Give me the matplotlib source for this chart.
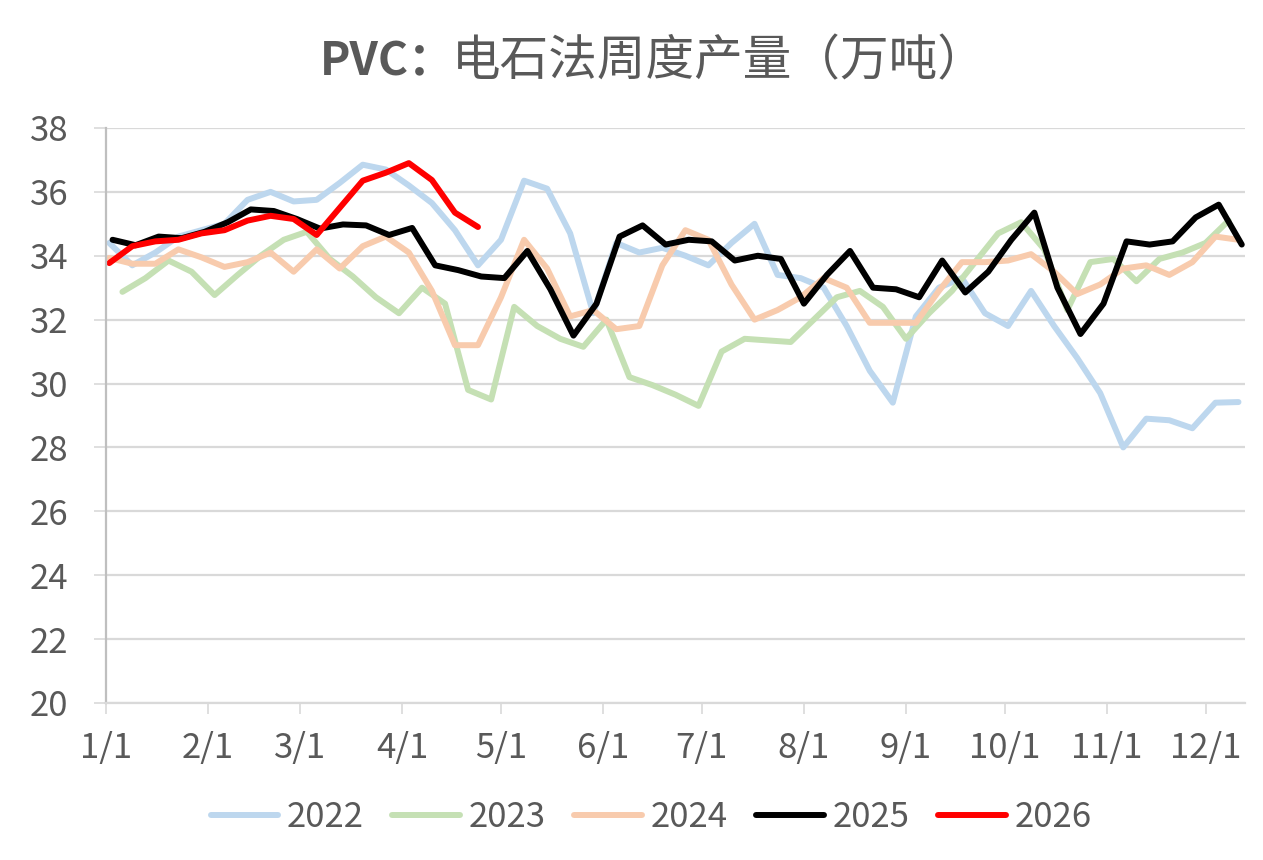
import numpy as np
import matplotlib
matplotlib.use('Agg')
import matplotlib.pyplot as plt

plt.rcParams['font.family'] = ['Noto Sans CJK SC', 'DejaVu Sans']

# days since Jan 1 for the month ticks
month_days = [0, 31, 59, 90, 120, 151, 181, 212, 243, 273, 304, 334]
month_labels = ['1/1', '2/1', '3/1', '4/1', '5/1', '6/1', '7/1', '8/1', '9/1', '10/1', '11/1', '12/1']

years = ['2022', '2023', '2024', '2025', '2026']
colors = ['#BDD7EE', '#C5E0B4', '#F8CBAD', '#000000', '#FF0000']
start_day = [1, 5, 1, 2, 1]   # first weekly observation (day of year, 0 = Jan 1)

v2022 = [34.4, 33.7, 34.1, 34.6, 34.8, 35.0, 35.75, 36.0, 35.7, 35.75,
         36.28, 36.85, 36.7, 36.2, 35.65, 34.8, 33.7, 34.5, 36.35, 36.1,
         34.7, 32.2, 34.4, 34.1, 34.25, 34.0, 33.7, 34.4, 35.0, 33.4,
         33.3, 33.0, 31.8, 30.4, 29.4, 32.1, 33.0, 33.3, 32.2, 31.8,
         32.9, 31.8, 30.8, 29.7, 28.0, 28.9, 28.85, 28.6, 29.4, 29.42]
v2023 = [32.87, 33.3, 33.85, 33.5, 32.77, 33.4, 34.0, 34.5, 34.75, 33.9,
         33.35, 32.7, 32.2, 33.0, 32.5, 29.8, 29.5, 32.4, 31.8, 31.4,
         31.15, 32.0, 30.2, 29.95, 29.65, 29.3, 31.0, 31.4, 31.35, 31.3,
         32.0, 32.7, 32.9, 32.4, 31.4, 32.2, 32.9, 33.8, 34.7, 35.05,
         34.2, 32.3, 33.8, 33.9, 33.2, 33.9, 34.1, 34.4, 35.1]
v2024 = [33.93, 33.75, 33.75, 34.2, 33.95, 33.65, 33.8, 34.1, 33.5, 34.2,
         33.6, 34.3, 34.6, 34.1, 32.9, 31.2, 31.2, 32.7, 34.5, 33.6,
         32.1, 32.3, 31.7, 31.8, 33.7, 34.8, 34.5, 33.1, 32.0, 32.3,
         32.7, 33.3, 33.0, 31.9, 31.9, 31.9, 32.9, 33.8, 33.8, 33.85,
         34.05, 33.5, 32.8, 33.1, 33.6, 33.7, 33.4, 33.8, 34.6, 34.5]
v2025 = [34.5, 34.33, 34.6, 34.55, 34.75, 35.05, 35.45, 35.4, 35.15, 34.85,
         34.98, 34.95, 34.65, 34.87, 33.7, 33.55, 33.35, 33.3, 34.15, 32.95,
         31.5, 32.5, 34.6, 34.95, 34.35, 34.5, 34.45, 33.85, 34.0, 33.9,
         32.5, 33.4, 34.15, 33.0, 32.95, 32.7, 33.85, 32.85, 33.5, 34.5,
         35.35, 33.0, 31.55, 32.5, 34.45, 34.35, 34.45, 35.2, 35.6, 34.35]
v2026 = [33.77, 34.3, 34.45, 34.5, 34.7, 34.8, 35.1, 35.25, 35.15, 34.65,
         35.5, 36.35, 36.6, 36.9, 36.37, 35.35, 34.9]

series = [v2022, v2023, v2024, v2025, v2026]

fig = plt.figure(figsize=(12.63, 8.6), dpi=100)
ax = fig.add_axes([0.0839, 0.1826, 0.9019, 0.6686])

for name, vals, c, s in zip(years, series, colors, start_day):
    days = s + 7 * np.arange(len(vals))
    ax.plot(days, vals, color=c, lw=4.3, label=name,
            solid_joinstyle='round', solid_capstyle='round')

ax.set_xlim(0, 346)
ax.set_ylim(20, 38)
ax.set_yticks(np.arange(20, 39, 2))
ax.set_xticks(month_days)
ax.set_xticklabels(month_labels)

ax.grid(axis='y', color='#D9D9D9', lw=1.6)
ax.set_axisbelow(True)
for side in ['top', 'right']:
    ax.spines[side].set_visible(False)
ax.spines['left'].set_color('#BFBFBF')
ax.spines['left'].set_linewidth(1.6)
ax.spines['bottom'].set_color('#D9D9D9')
ax.spines['bottom'].set_linewidth(1.6)
ax.tick_params(axis='x', colors='#595959', labelsize=25, length=8, width=1.2,
               color='#D9D9D9', pad=12)
ax.tick_params(axis='y', colors='#595959', labelsize=25, length=9, width=1.2,
               color='#D9D9D9', pad=18)

fig.text(320 / 1263, 0.928, 'PVC：', ha='left', va='center',
         fontsize=33, fontweight='bold', color='#595959')
fig.text(452 / 1263, 0.928, '电石法周度产量（万吨）', ha='left', va='center',
         fontsize=35, color='#595959')

fig.legend(loc='center', bbox_to_anchor=(0.5155, 0.049), ncol=5, frameon=False,
           fontsize=25, handlelength=1.95, columnspacing=0.82, handletextpad=0.25,
           labelcolor='#595959')

fig.savefig('out.png', dpi=100)
